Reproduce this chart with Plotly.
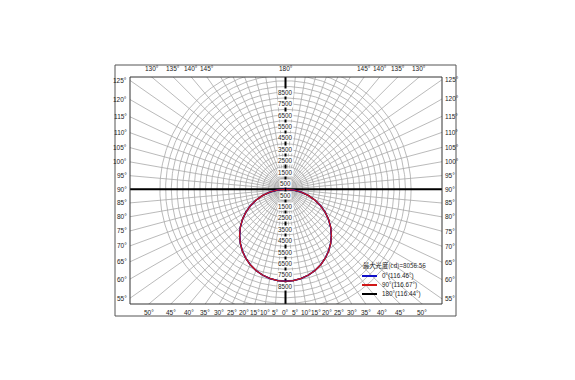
import numpy as np
import plotly.graph_objects as go

# ---------------- data ----------------
gamma = [0, 5, 10, 15, 20, 25, 30, 35, 40, 45, 50, 55, 60, 65, 70, 75, 80, 85, 90]
c0 = [8057, 8024, 7930, 7775, 7562, 7290, 6962, 6583, 6153, 5676, 5158, 4600, 4005, 3380, 2730, 2060, 1380, 700, 60]
c90 = [8050, 8020, 7925, 7772, 7560, 7293, 6968, 6590, 6160, 5684, 5165, 4606, 4010, 3383, 2733, 2062, 1382, 702, 62]
c180 = [8056, 8022, 7928, 7773, 7561, 7291, 6965, 6586, 6156, 5680, 5161, 4603, 4007, 3381, 2731, 2061, 1381, 701, 61]

max_text = "最大光度(cd)=8056.56"
legend_names = ["0°(116.46°)", "90°(116.67°)", "180°(116.44°)"]
legend_colors = ["#1010c8", "#d01818", "#000000"]

ring_values = list(range(500, 11001, 500))
ring_labels = [500, 1500, 2500, 3500, 4500, 5500, 6500, 7500, 8500]
radial_angles = list(range(0, 360, 5))
left_labels = [55, 60, 65, 70, 75, 80, 85, 90, 95, 100, 105, 110, 115, 120, 125]
top_labels = [130, 135, 140, 145, 180, 145, 140, 135, 130]
top_sides = [-1, -1, -1, -1, 0, 1, 1, 1, 1]
bottom_labels = [50, 45, 40, 35, 30, 25, 20, 15, 10, 5, 0, 5, 10, 15, 20, 25, 30, 35, 40, 45, 50]
bottom_sides = [-1] * 10 + [0] + [1] * 10

# ---------------- geometry ----------------
OFF = 8  # default page body margin
W, H = 575 - OFF, 380 - OFF
L, R, T, B = 130, 442, 77, 304  # target screen pixels of the inner box
cx, cy = 285.5, 189.3
s = 0.01142  # px per cd
xmin, xmax = -(cx - L) / s, (R - cx) / s
ymin, ymax = -(B - cy) / s, (cy - T) / s

fig = go.Figure()

gridc = "#a8a8a8"
# circles
cxs, cys = [], []
t = np.linspace(0, 2 * np.pi, 361)
for r in ring_values:
    cxs += list(r * np.cos(t)) + [None]
    cys += list(r * np.sin(t)) + [None]
fig.add_trace(go.Scatter(x=cxs, y=cys, mode="lines", line=dict(color=gridc, width=0.8),
                         hoverinfo="skip", showlegend=False))
# radial lines
rxs, rys = [], []
for a in radial_angles:
    th = np.radians(a)
    rxs += [0, 30000 * np.sin(th), None]
    rys += [0, -30000 * np.cos(th), None]
fig.add_trace(go.Scatter(x=rxs, y=rys, mode="lines", line=dict(color=gridc, width=0.8),
                         hoverinfo="skip", showlegend=False))
# main axes
fig.add_trace(go.Scatter(x=[xmin, xmax], y=[0, 0], mode="lines", line=dict(color="black", width=2),
                         hoverinfo="skip", showlegend=False))
fig.add_trace(go.Scatter(x=[0, 0], y=[ymin, ymax], mode="lines", line=dict(color="black", width=2),
                         hoverinfo="skip", showlegend=False))

# curves
def curve(vals):
    g = np.radians(np.array(gamma, dtype=float))
    v = np.array(vals, dtype=float)
    xr = v * np.sin(g)
    yr = -v * np.cos(g)
    x = list(-xr[::-1]) + list(xr[1:])
    y = list(yr[::-1]) + list(yr[1:])
    return x, y

for vals, col, nm, w in [(c180, legend_colors[2], legend_names[2], 1.3),
                         (c0, legend_colors[0], legend_names[0], 1.5),
                         (c90, legend_colors[1], legend_names[1], 1.2)]:
    x, y = curve(vals)
    fig.add_trace(go.Scatter(x=x, y=y, mode="lines", line=dict(color=col, width=w),
                             name=nm, showlegend=False))

ann = []
lab_font = "Liberation Sans, Arial"
txtc = "#222222"
font_small = dict(family=lab_font, size=6.5, color=txtc)
# value labels on vertical axis
for v in ring_labels:
    for sgn in (1, -1):
        ann.append(dict(x=0, y=sgn * v, xref="x", yref="y", text=str(v), showarrow=False,
                        font=dict(family=lab_font, size=6.3, color=txtc),
                        bgcolor="white", borderpad=0, xanchor="center", yanchor="middle"))

def py_to_paper(py):
    return (B - py) / (B - T)

def px_to_paper(px):
    return (px - L) / (R - L)

# left / right labels
for a in left_labels:
    yl = xmin / np.tan(np.radians(a))
    ann.append(dict(x=-0.004, y=yl, xref="paper", yref="y", text=f"{a}°", showarrow=False,
                    font=font_small, xanchor="right", yanchor="middle"))
    yr_ = -xmax / np.tan(np.radians(a))
    ann.append(dict(x=1.004, y=yr_, xref="paper", yref="y", text=f"{a}°", showarrow=False,
                    font=font_small, xanchor="left", yanchor="middle"))
# top labels
for a, sd in zip(top_labels, top_sides):
    xd = sd * ymax * np.tan(np.radians(180 - a))
    ann.append(dict(x=xd, y=1.012, xref="x", yref="paper", text=f"{a}°", showarrow=False,
                    font=font_small, xanchor="center", yanchor="bottom"))
# bottom labels
for a, sd in zip(bottom_labels, bottom_sides):
    xd = sd * (-ymin) * np.tan(np.radians(a))
    ann.append(dict(x=xd, y=-0.012, xref="x", yref="paper", text=f"{a}°", showarrow=False,
                    font=font_small, xanchor="center", yanchor="top"))

# legend block
ann.append(dict(x=px_to_paper(361), y=py_to_paper(265), xref="paper", yref="paper", text=max_text,
                showarrow=False, xanchor="left", yanchor="middle",
                font=dict(family="Noto Sans CJK SC", size=6.3, color=txtc)))
shapes = []
leg_y = [276, 285, 294]
for nm, col, ly in zip(legend_names, legend_colors, leg_y):
    shapes.append(dict(type="line", xref="paper", yref="paper", x0=px_to_paper(362), x1=px_to_paper(377),
                       y0=py_to_paper(ly), y1=py_to_paper(ly), line=dict(color=col, width=2)))
    ann.append(dict(x=px_to_paper(380), y=py_to_paper(ly), xref="paper", yref="paper", text=nm,
                    showarrow=False, xanchor="left", yanchor="middle",
                    font=dict(family=lab_font, size=6.3, color=txtc)))

# boxes
shapes.append(dict(type="rect", xref="paper", yref="paper", x0=0, x1=1, y0=0, y1=1,
                   line=dict(color="#333333", width=1)))
shapes.append(dict(type="rect", xref="paper", yref="paper",
                   x0=px_to_paper(115), x1=px_to_paper(456), y0=py_to_paper(316), y1=py_to_paper(65),
                   line=dict(color="#555555", width=1)))

fig.update_layout(
    width=W, height=H, autosize=False,
    margin=dict(l=L - OFF, r=575 - R, t=T - OFF, b=380 - B, pad=0),
    paper_bgcolor="white", plot_bgcolor="white",
    xaxis=dict(range=[xmin, xmax], showgrid=False, zeroline=False, showticklabels=False,
               ticks="", showline=False, fixedrange=True),
    yaxis=dict(range=[ymin, ymax], showgrid=False, zeroline=False, showticklabels=False,
               ticks="", showline=False, fixedrange=True),
    annotations=ann, shapes=shapes, showlegend=False,
)
fig.write_html("out.html")
